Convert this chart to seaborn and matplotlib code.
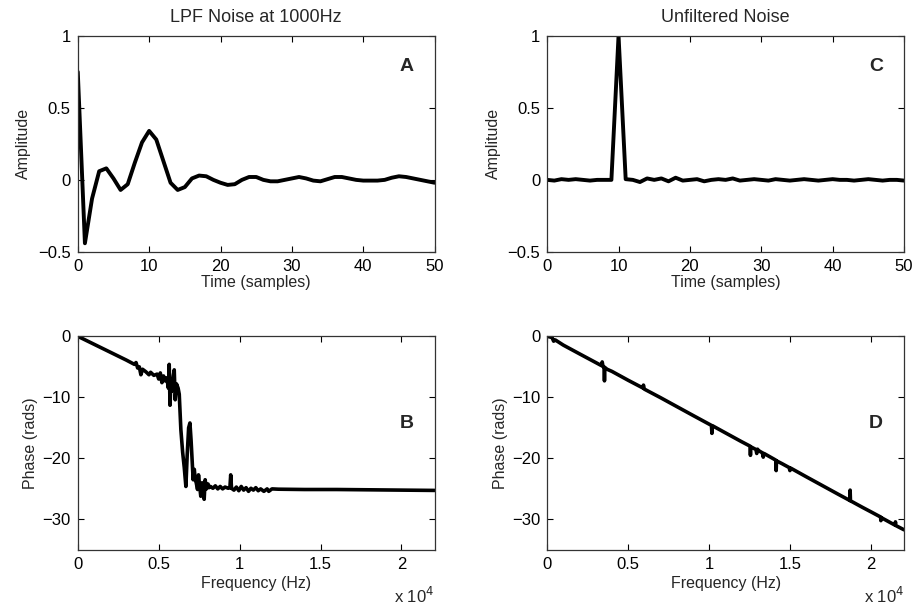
import numpy as np
import pandas as pd
import matplotlib
matplotlib.use("Agg")
import matplotlib.pyplot as plt
import seaborn as sns

# ---- data ----
samples = list(range(51))
lpf_amp = [0.75, -0.44, -0.13, 0.06, 0.08, 0.01, -0.07, -0.03, 0.12, 0.26,
           0.34, 0.28, 0.13, -0.02, -0.07, -0.05, 0.01, 0.03, 0.025, 0.0,
           -0.02, -0.035, -0.03, 0.0, 0.02, 0.02, 0.0, -0.01, -0.01, 0.0,
           0.01, 0.02, 0.01, -0.005, -0.01, 0.005, 0.02, 0.02, 0.01, 0.0,
           -0.005, -0.005, -0.005, 0.0, 0.015, 0.025, 0.02, 0.01, 0.0, -0.01,
           -0.02]
raw_amp = [0.0, -0.005, 0.005, 0.0, 0.005, 0.0, -0.005, 0.0, 0.0, 0.0,
           1.0, 0.005, 0.0, -0.015, 0.01, 0.0, 0.01, -0.01, 0.015, -0.005,
           0.0, 0.005, -0.01, 0.0, 0.005, 0.0, 0.01, -0.005, 0.0, 0.005,
           0.0, -0.005, 0.005, 0.0, -0.005, 0.0, 0.005, 0.0, -0.005, 0.0,
           0.005, 0.0, 0.0, -0.005, 0.0, 0.005, 0.0, -0.005, 0.0, 0.0,
           -0.005]

lpf_freq = [0, 1000, 2000, 3000, 3500, 3600, 3700, 3800, 3900, 4000, 4200, 4400,
            4500, 4700, 4900, 5000, 5100, 5200, 5300, 5400, 5500, 5600, 5650,
            5700, 5750, 5800, 5900, 5960, 6020, 6100, 6200, 6270, 6370, 6480,
            6580, 6680, 6760, 6850, 6930, 7000, 7050, 7130, 7200, 7260, 7320,
            7400, 7460, 7530, 7600, 7680, 7750, 7810, 7870, 7950, 8050, 8110,
            8200, 8350, 8500, 8650, 8800, 8950, 9100, 9300, 9400, 9450, 9500,
            9650, 9800, 9950, 10100, 10250, 10400, 10550, 10700, 10850, 11000,
            11150, 11300, 11500, 11700, 11800, 12000, 12400, 14000, 16000,
            18000, 20000, 22050]
lpf_phase = [0, -1.3, -2.6, -3.9, -4.6, -4.3, -5.2, -5.0, -6.3, -5.4, -5.8, -6.3,
             -5.9, -6.4, -6.2, -7.0, -6.0, -7.6, -6.5, -7.3, -6.8, -8.5, -4.6,
             -11.3, -7.5, -9.0, -6.5, -5.5, -10.4, -7.8, -8.5, -9.5, -15.3, -19.0,
             -21.5, -24.6, -19.5, -15.0, -14.2, -17.0, -19.5, -23.5, -21.8, -23.5,
             -24.0, -25.1, -22.7, -24.5, -26.2, -24.0, -25.5, -26.7, -23.5, -25.0,
             -24.2, -24.8, -24.6, -24.9, -24.5, -25.0, -24.6, -25.0, -24.7, -24.9,
             -24.8, -22.7, -24.9, -25.2, -24.7, -25.3, -24.6, -25.2, -24.8, -25.4,
             -24.9, -25.2, -24.8, -25.3, -25.0, -25.4, -25.0, -25.4, -25.0,
             -25.05, -25.1, -25.1, -25.15, -25.2, -25.25]

raw_freq = [0, 300, 400, 500, 1000, 2000, 3000, 3350, 3400, 3450, 3520, 3540,
            3560, 3700, 4000, 5000, 5900, 5950, 6000, 7000, 8000, 9000, 10150,
            10180, 10210, 11000, 12000, 12540, 12560, 12580, 12900, 12950, 13000,
            13050, 13300, 13350, 13400, 14000, 14130, 14150, 14170, 14500, 14950,
            15000, 15050, 16000, 17000, 18000, 18700, 18720, 18740, 19500, 20000,
            20600, 20620, 20640, 21500, 21520, 21540, 22050]
raw_phase = [0, -0.2, -0.8, -0.6, -1.45, -2.88, -4.3, -4.8, -4.2, -4.95, -5.05,
             -7.3, -5.1, -5.4, -5.75, -7.2, -8.45, -8.0, -8.65, -10.05, -11.5,
             -12.95, -14.6, -15.9, -14.65, -15.8, -17.25, -18.0, -19.5, -18.1,
             -18.55, -19.2, -18.5, -18.7, -19.1, -19.8, -19.2, -20.1, -20.3, -22.0,
             -20.4, -20.85, -21.5, -22.0, -21.6, -23.0, -24.45, -25.9, -26.9,
             -25.2, -26.95, -28.05, -28.75, -29.6, -30.2, -29.7, -30.95, -30.4,
             -31.0, -31.7]

amp_ticks = [-0.5, 0, 0.5, 1]
time_ticks = [0, 10, 20, 30, 40, 50]
phase_ticks = [-30, -20, -10, 0]
freq_ticks = [0, 5000, 10000, 15000, 20000]
freq_ticklabels = ["0", "0.5", "1", "1.5", "2"]

# ---- style ----
sns.set_style("ticks")
plt.rcParams["font.family"] = ["Liberation Sans", "DejaVu Sans"]
plt.rcParams["axes.unicode_minus"] = True

fig = plt.figure(figsize=(9.15, 6.07), dpi=100)
axA = fig.add_axes([0.085, 0.585, 0.390, 0.356])
axC = fig.add_axes([0.598, 0.585, 0.390, 0.356])
axB = fig.add_axes([0.085, 0.094, 0.390, 0.352])
axD = fig.add_axes([0.598, 0.094, 0.390, 0.352])

lw_top = 2.8
lw_bot = 2.6

dfA = pd.DataFrame({"t": samples, "a": lpf_amp})
dfC = pd.DataFrame({"t": samples, "a": raw_amp})
dfB = pd.DataFrame({"f": lpf_freq, "p": lpf_phase})
dfD = pd.DataFrame({"f": raw_freq, "p": raw_phase})

sns.lineplot(data=dfA, x="t", y="a", ax=axA, color="black", lw=lw_top, sort=False)
sns.lineplot(data=dfC, x="t", y="a", ax=axC, color="black", lw=lw_top, sort=False)
sns.lineplot(data=dfB, x="f", y="p", ax=axB, color="black", lw=lw_bot, sort=False)
sns.lineplot(data=dfD, x="f", y="p", ax=axD, color="black", lw=lw_bot, sort=False)

fs_lab = 11.5
fs_tick = 12
for ax in (axA, axC):
    ax.set_xlim(0, 50)
    ax.set_ylim(-0.5, 1)
    ax.set_xticks(time_ticks)
    ax.set_yticks(amp_ticks)
    ax.set_yticklabels(["\u22120.5", "0", "0.5", "1"])
    ax.set_xlabel("Time (samples)", fontsize=fs_lab, labelpad=1)
    ax.set_ylabel("Amplitude", fontsize=fs_lab, labelpad=5)

for ax in (axB, axD):
    ax.set_xlim(0, 22050)
    ax.set_ylim(-35, 0)
    ax.set_xticks(freq_ticks)
    ax.set_xticklabels(freq_ticklabels)
    ax.set_yticks(phase_ticks)
    ax.set_yticklabels(["\u221230", "\u221220", "\u221210", "0"])
    ax.set_xlabel("Frequency (Hz)", fontsize=fs_lab, labelpad=3)
    ax.set_ylabel("Phase (rads)", fontsize=fs_lab, labelpad=3)
    ax.text(1.0, -0.215, "x 10$^4$", transform=ax.transAxes, ha="right",
            va="center", fontsize=fs_tick)

for ax in (axA, axB, axC, axD):
    ax.tick_params(direction="in", length=4, width=0.8, top=True, right=True,
                   labelsize=fs_tick, pad=5, colors="black")
    for s in ax.spines.values():
        s.set_visible(True)
        s.set_linewidth(0.9)
        s.set_color("#333333")

axA.set_title("LPF Noise at 1000Hz", fontsize=13, pad=10)
axC.set_title("Unfiltered Noise", fontsize=13, pad=10)

for ax, lab, y in ((axA, "A", 0.856), (axC, "C", 0.856), (axB, "B", 0.59), (axD, "D", 0.59)):
    ax.text(0.922, y, lab, transform=ax.transAxes, ha="center", va="center",
            fontsize=14, fontweight="bold")

fig.savefig("out.png", dpi=100)
